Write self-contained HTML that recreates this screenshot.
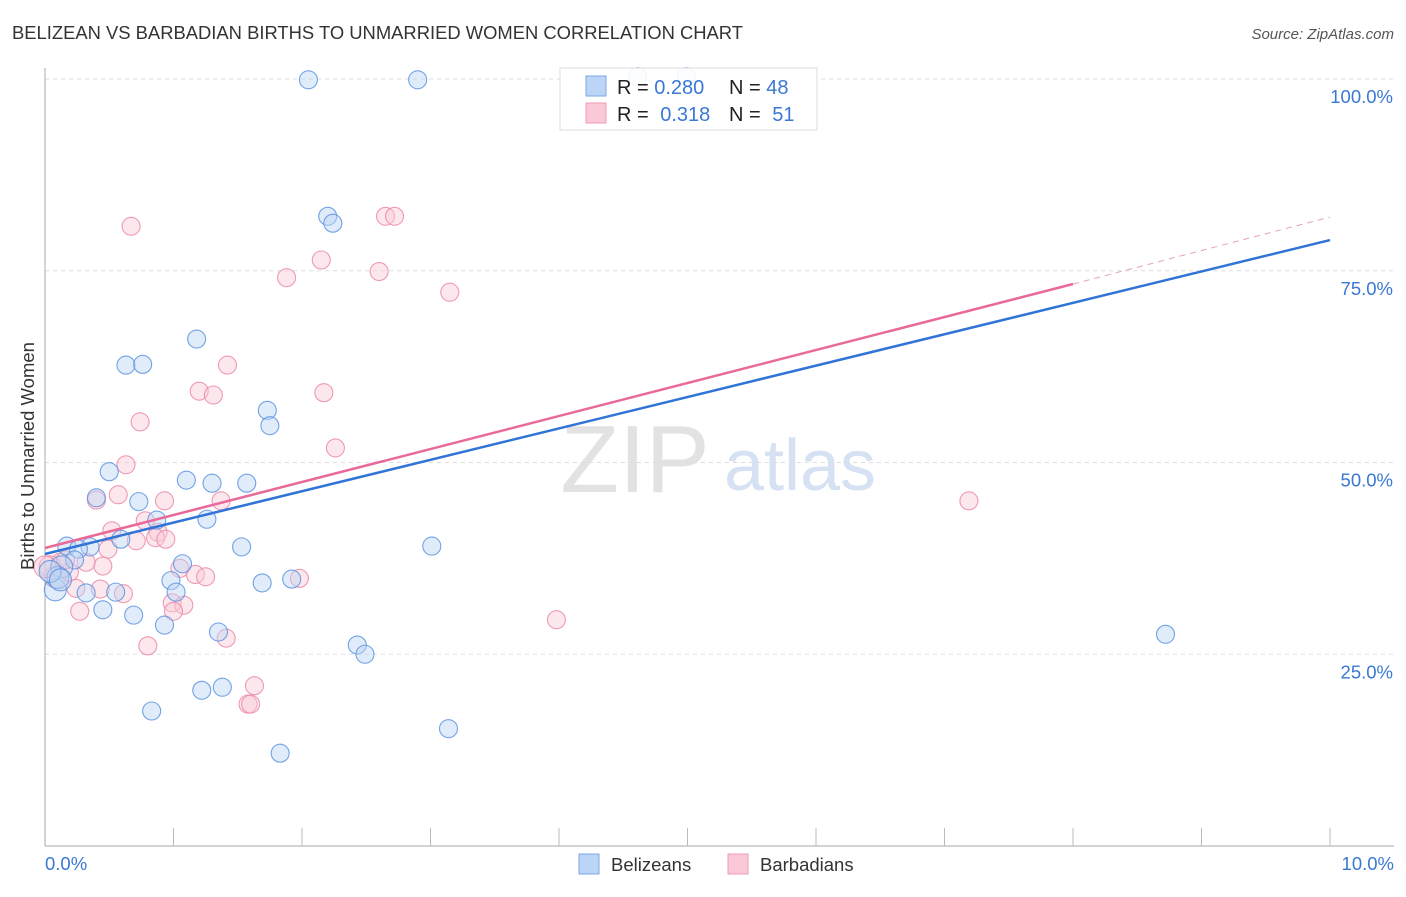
<!DOCTYPE html>
<html><head><meta charset="utf-8"><style>
body{margin:0;background:#fff;font-family:"Liberation Sans",sans-serif;}
svg text{font-family:"Liberation Sans",sans-serif;}
</style></head><body>
<svg id="chart" width="1406" height="892" xmlns="http://www.w3.org/2000/svg">
<text x="12" y="39" font-size="18.4" fill="#333">BELIZEAN VS BARBADIAN BIRTHS TO UNMARRIED WOMEN CORRELATION CHART</text>
<text x="1394" y="39" font-size="15" fill="#555" font-style="italic" text-anchor="end">Source: ZipAtlas.com</text>
<text x="635" y="492" font-size="96" fill="#e2e2e2" font-family="Liberation Serif" text-anchor="middle">ZIP</text>
<text x="800" y="490" font-size="72" fill="#d6e2f3" text-anchor="middle">atlas</text>
<g id="grid"></g>
<g id="axes"></g>
<g id="pts"></g>
<g id="lines"></g>
<text transform="translate(34,456) rotate(-90)" font-size="18.5" fill="#333" text-anchor="middle">Births to Unmarried Women</text>
<text x="45" y="870" font-size="18.5" fill="#3a78d4">0.0%</text>
<text x="1394" y="870" font-size="18.5" fill="#3a78d4" text-anchor="end">10.0%</text>
<g>
<rect x="579" y="854" width="20" height="20" fill="#bcd4f5" stroke="#7aa7e6"/>
<text x="611" y="871" font-size="18.5" fill="#333">Belizeans</text>
<rect x="728" y="854" width="20" height="20" fill="#f9c9d7" stroke="#f09ab4"/>
<text x="760" y="871" font-size="18.5" fill="#333">Barbadians</text>
</g>
<g>
<rect x="560" y="68" width="257" height="62" fill="#fff" fill-opacity="0.9" stroke="#ddd"/>
<rect x="586" y="76" width="20" height="20" fill="#bcd4f5" stroke="#7aa7e6"/>
<rect x="586" y="103" width="20" height="20" fill="#f9c9d7" stroke="#f09ab4"/>
<text x="617" y="94" font-size="20" fill="#222">R = <tspan fill="#3a78d4">0.280</tspan></text>
<text x="729" y="94" font-size="20" fill="#222">N = <tspan fill="#3a78d4">48</tspan></text>
<text x="617" y="121" font-size="20" fill="#222">R = <tspan fill="#3a78d4" dx="6">0.318</tspan></text>
<text x="729" y="121" font-size="20" fill="#222">N = <tspan fill="#3a78d4" dx="6">51</tspan></text>
</g>
</svg>
<script>
const yTicks=[25,50,75,100];
const yTickLabels=["25.0%","50.0%","75.0%","100.0%"];
const blueX=[2.05,2.9,2.2,2.24,1.18,0.63,0.76,1.73,1.75,0.5,0.4,0.73,1.1,1.3,1.57,0.87,1.26,0.59,0.17,0.35,0.26,0.23,0.13,1.53,3.01,1.07,0.98,1.69,1.92,1.02,0.55,0.32,0.45,0.69,0.93,1.35,2.43,2.49,8.72,1.22,1.38,0.83,3.14,1.83,0.08,0.1,0.04,0.12,4.61,4.99];
const blueY=[99.9,99.9,82.1,81.2,66.1,62.7,62.8,56.8,54.8,48.8,45.4,44.9,47.7,47.3,47.3,42.5,42.6,40.0,39.1,39.0,38.7,37.3,36.4,39.0,39.1,36.8,34.6,34.3,34.8,33.1,33.1,33.0,30.8,30.1,28.8,27.9,26.2,25.0,27.6,20.3,20.7,17.6,15.3,12.1,33.4,35.0,35.8,34.7,100.3,100.3];
const pinkX=[0.67,2.65,2.72,2.15,1.88,2.6,3.15,1.42,1.2,1.31,2.17,0.74,0.63,2.26,0.57,0.4,0.93,1.37,7.19,0.78,0.52,0.88,0.86,0.94,0.71,0.49,1.05,0.45,0.32,1.17,1.25,1.98,0.24,0.43,0.61,0.99,1.08,1.0,0.27,3.98,1.41,0.8,1.63,1.58,1.6,0.12,0.04,0.08,0.19,0.0,0.16];
const pinkY=[80.8,82.1,82.1,76.4,74.1,74.9,72.2,62.7,59.3,58.8,59.1,55.3,49.7,51.9,45.8,45.1,45.0,45.0,45.0,42.4,41.1,40.9,40.2,40.0,39.8,38.7,36.2,36.5,37.0,35.4,35.1,34.9,33.6,33.5,32.9,31.7,31.4,30.6,30.6,29.5,27.1,26.1,20.9,18.5,18.5,37.0,36.4,35.1,35.7,36.4,37.3];
const blueLine=[38.07,79.0];
const pinkLine=[38.85,73.27,82.0];
const X0=45,X1=1330,Y0=846,Y100=79;
const sx=v=>X0+(X1-X0)*v/10;
const sy=v=>Y0-(Y0-Y100)*v/100;
const NS="http://www.w3.org/2000/svg";
function mk(t,a,p){const e=document.createElementNS(NS,t);for(const k in a)e.setAttribute(k,a[k]);p.appendChild(e);return e;}
const grid=document.getElementById('grid'),axes=document.getElementById('axes'),pts=document.getElementById('pts'),lines=document.getElementById('lines');
yTicks.forEach((t,i)=>{
 const l=mk('line',{x1:X0,x2:1394,y1:sy(t),y2:sy(t),stroke:'#ddd','stroke-dasharray':'4,4'},grid);
 
 
 const tx=mk('text',{x:1393,y:sy(t)+24,'font-size':18.5,fill:'#3a78d4','text-anchor':'end'},grid);
 tx.textContent=yTickLabels[i];
 
 
});
const ya=mk('line',{x1:X0,x2:X0,y1:68,y2:Y0,stroke:'#aaa'},axes);


const xa=mk('line',{x1:X0,x2:1394,y1:Y0,y2:Y0,stroke:'#aaa'},axes);


for(let i=1;i<=10;i++){const t=mk('line',{x1:sx(i),x2:sx(i),y1:Y0,y2:Y0-18,stroke:'#bbb'},axes);
 
 }
function dots(xs,ys,fill,stroke,name){xs.forEach((x,i)=>{
 const big=(x<0.15&&ys[i]>33&&ys[i]<37)?11:9;
 const c=mk('circle',{cx:sx(x),cy:sy(ys[i]),r:big,fill:fill,'fill-opacity':0.45,stroke:stroke,'stroke-width':1.1,'stroke-opacity':0.85},pts);
 
 });}
dots(pinkX,pinkY,'#f9c9d7','#ec8aa8','barbadian-point');
dots(blueX,blueY,'#bcd4f5','#5b93e0','belizean-point');
const bl=mk('line',{x1:sx(0),y1:sy(blueLine[0]),x2:sx(10),y2:sy(blueLine[1]),stroke:'#2f74d6','stroke-width':2.5},lines);


const pl=mk('line',{x1:sx(0),y1:sy(pinkLine[0]),x2:sx(8),y2:sy(pinkLine[1]),stroke:'#e8699a','stroke-width':2.5},lines);


const pd=mk('line',{x1:sx(8),y1:sy(pinkLine[1]),x2:sx(10),y2:sy(pinkLine[2]),stroke:'#e8a0bc','stroke-width':1,'stroke-dasharray':'6,5'},lines);


</script>
</body></html>
